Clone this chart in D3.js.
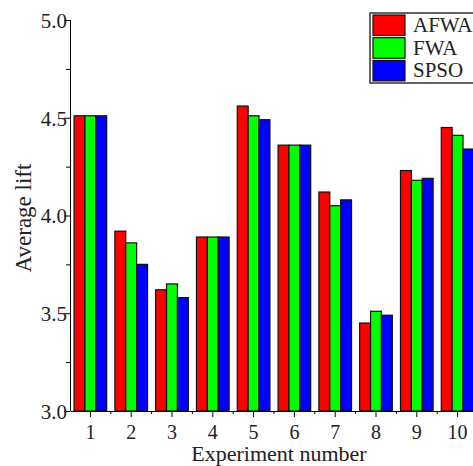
<!DOCTYPE html>
<html>
<head>
<meta charset="utf-8">
<script src="https://cdn.jsdelivr.net/npm/d3@7"></script>
<style>
  body { margin: 0; background: #fff; }
  svg text { font-family: "Liberation Serif", "DejaVu Serif", serif; fill: #222; }
  .axis path, .axis line { stroke: #000; }
</style>
</head>
<body>
<div id="chart"></div>
<script>
var experiments = ['1', '2', '3', '4', '5', '6', '7', '8', '9', '10'];
var seriesNames = ['AFWA', 'FWA', 'SPSO'];
var seriesColors = ['#ff0000', '#00ff00', '#0000ff'];
var afwa = [4.51, 3.92, 3.62, 3.89, 4.56, 4.36, 4.12, 3.45, 4.23, 4.45];
var fwa  = [4.51, 3.86, 3.65, 3.89, 4.51, 4.36, 4.05, 3.51, 4.18, 4.41];
var spso = [4.51, 3.75, 3.58, 3.89, 4.49, 4.36, 4.08, 3.49, 4.19, 4.34];
var yTicks = [3.0, 3.5, 4.0, 4.5, 5.0];
var yMinorTicks = [3.25, 3.75, 4.25, 4.75];

var fullWidth = 473, fullHeight = 466;
var margin = {top: 20, right: -5, bottom: 55, left: 70};
var width = fullWidth - margin.left - margin.right;
var height = fullHeight - margin.top - margin.bottom;

var svg = d3.select('#chart').append('svg')
    .attr('width', fullWidth)
    .attr('height', fullHeight);

var g = svg.append('g')
    .attr('transform', 'translate(' + margin.left + ',' + margin.top + ')');

var x = d3.scaleBand().domain(experiments).range([0, width])
    .paddingInner(0.2).paddingOuter(0.1);
var xSub = d3.scaleBand().domain(seriesNames).range([0, x.bandwidth()]);
var y = d3.scaleLinear().domain([3.0, 5.0]).range([height, 0]);

var table = experiments.map(function(e, i) {
    return {exp: e, values: [afwa[i], fwa[i], spso[i]]};
});

// Bars.
var groups = g.selectAll('.grp').data(table).enter().append('g')
    .attr('class', 'grp')
    .attr('transform', function(d) { return 'translate(' + x(d.exp) + ',0)'; });

groups.selectAll('rect')
    .data(function(d) { return d.values.map(function(v, k) { return {k: k, v: v}; }); })
    .enter().append('rect')
    .attr('x', function(d) { return xSub(seriesNames[d.k]); })
    .attr('y', function(d) { return y(d.v); })
    .attr('width', xSub.bandwidth())
    .attr('height', function(d) { return y(3.0) - y(d.v); })
    .attr('fill', function(d) { return seriesColors[d.k]; })
    .attr('stroke', '#111')
    .attr('stroke-width', 1.2);

// Y axis.
var yAxis = d3.axisLeft(y).tickValues(yTicks).tickFormat(d3.format('.1f')).tickSize(6).tickPadding(-3);
g.append('g').attr('class', 'axis')
    .call(yAxis)
    .call(function(s) {
        s.select('.domain').attr('d', 'M0.5,' + height + 'V0');
        s.selectAll('text').style('font-size', '21px').attr('dy', '0.35em');
    });
g.append('g').attr('class', 'axis')
    .call(d3.axisLeft(y).tickValues(yMinorTicks).tickSize(4).tickFormat(''))
    .call(function(s) { s.select('.domain').remove(); });

// X axis.
var xAxis = d3.axisBottom(x).tickSize(6).tickSizeOuter(0).tickPadding(8);
g.append('g').attr('class', 'axis')
    .attr('transform', 'translate(0,' + height + ')')
    .call(xAxis)
    .call(function(s) { s.selectAll('text').style('font-size', '20px'); });

// Minor ticks between groups.
var step = x.step();
var bounds = d3.range(1, experiments.length).map(function(i) { return x(experiments[i]) - step * x.paddingInner() / 2; });
g.append('g').selectAll('line').data(bounds).enter().append('line')
    .attr('x1', function(d) { return d; }).attr('x2', function(d) { return d; })
    .attr('y1', height).attr('y2', height + 3)
    .attr('stroke', '#000');

// Axis titles.
svg.append('text')
    .attr('x', 279).attr('y', 461)
    .attr('text-anchor', 'middle')
    .style('font-size', '22px')
    .text('Experiment number');

svg.append('text')
    .attr('transform', 'translate(31,218) rotate(-90)')
    .attr('text-anchor', 'middle')
    .style('font-size', '23px')
    .text('Average lift');

// Legend.
var legend = svg.append('g').attr('transform', 'translate(370,13)');
legend.append('rect')
    .attr('x', 0).attr('y', 0).attr('width', 110).attr('height', 70)
    .attr('fill', '#fff').attr('stroke', '#333').attr('stroke-width', 1.5);
var items = legend.selectAll('.item').data(seriesNames).enter().append('g')
    .attr('class', 'item')
    .attr('transform', function(d, i) { return 'translate(0,' + (1 + i * 22.7) + ')'; });
items.append('rect')
    .attr('x', 3).attr('y', 1).attr('width', 32).attr('height', 20.5)
    .attr('fill', function(d, i) { return seriesColors[i]; })
    .attr('stroke', '#111').attr('stroke-width', 1.2);
items.append('text')
    .attr('x', 43).attr('y', 18)
    .style('font-size', '21px')
    .text(function(d) { return d; });
</script>
</body>
</html>
